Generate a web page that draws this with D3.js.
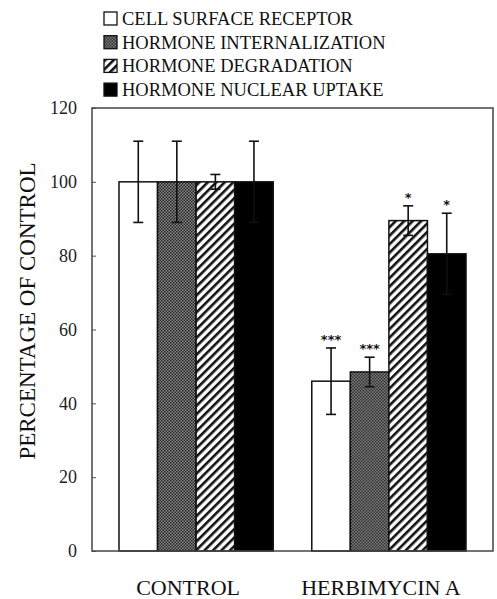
<!DOCTYPE html>
<html>
<head>
<meta charset="utf-8">
<script src="https://cdn.jsdelivr.net/npm/d3@7/dist/d3.min.js"></script>
<style>
  body { margin: 0; background: #fff; }
  svg { display: block; font-family: "Liberation Serif", "Times New Roman", serif; }
</style>
</head>
<body>
<div id="chart"></div>
<script>
// Chart data
const groups = ['CONTROL', 'HERBIMYCIN A'];
const series = ['CELL SURFACE RECEPTOR', 'HORMONE INTERNALIZATION', 'HORMONE DEGRADATION', 'HORMONE NUCLEAR UPTAKE'];
const controlValues = [100, 100, 100, 100];
const controlErrors = [11, 11, 2, 11];
const herbimycinValues = [46, 48.5, 89.5, 80.5];
const herbimycinErrors = [9, 4, 4, 11];
const herbimycinStars = ['***', '***', '*', '*'];
const yTicks = [0, 20, 40, 60, 80, 100, 120];

(function() {
    const width = 497, height = 599;
    const margin = {top: 108, right: 4, bottom: 48, left: 92};
    const plotW = width - margin.left - margin.right;
    const plotH = height - margin.top - margin.bottom;

    const rows = [
        {group: groups[0], values: controlValues, errors: controlErrors, stars: ['', '', '', '']},
        {group: groups[1], values: herbimycinValues, errors: herbimycinErrors, stars: herbimycinStars}
    ];

    const svg = d3.select('#chart')
        .append('svg')
        .attr('width', width)
        .attr('height', height);

    // Fill patterns
    const defs = svg.append('defs');
    const dots = defs.append('pattern')
        .attr('id', 'dots')
        .attr('patternUnits', 'userSpaceOnUse')
        .attr('width', 3)
        .attr('height', 3);
    dots.append('rect').attr('width', 3).attr('height', 3).attr('fill', '#8a8a8a');
    dots.append('rect').attr('width', 1.5).attr('height', 1.5).attr('fill', '#222');
    dots.append('rect').attr('x', 1.5).attr('y', 1.5).attr('width', 1.5).attr('height', 1.5).attr('fill', '#222');

    const hatch = defs.append('pattern')
        .attr('id', 'hatch')
        .attr('patternUnits', 'userSpaceOnUse')
        .attr('width', 6)
        .attr('height', 6)
        .attr('patternTransform', 'rotate(45)');
    hatch.append('rect').attr('width', 6).attr('height', 6).attr('fill', '#fff');
    hatch.append('rect').attr('width', 2.6).attr('height', 6).attr('fill', '#111');

    const fills = ['#fff', 'url(#dots)', 'url(#hatch)', '#000'];

    const g = svg.append('g')
        .attr('transform', `translate(${margin.left},${margin.top})`);

    // Scales
    const x0 = d3.scaleBand()
        .domain(groups)
        .range([0, plotW])
        .paddingInner(0.2)
        .paddingOuter(0.14);

    const x1 = d3.scaleBand()
        .domain(d3.range(series.length))
        .range([0, x0.bandwidth()])
        .padding(0);

    const y = d3.scaleLinear()
        .domain([0, 120])
        .range([plotH, 0]);

    // Y axis with inward ticks
    const yAxis = g.append('g')
        .call(d3.axisLeft(y).tickValues(yTicks).tickSize(-4).tickPadding(15));
    yAxis.select('.domain').remove();
    yAxis.selectAll('line').attr('stroke', '#555');
    yAxis.selectAll('text')
        .attr('font-size', 18)
        .attr('font-family', '"Liberation Serif", serif')
        .attr('fill', '#222');

    // Bars
    const groupSel = g.selectAll('.grp')
        .data(rows)
        .enter()
        .append('g')
        .attr('transform', d => `translate(${x0(d.group)},0)`);

    const items = groupSel.selectAll('.item')
        .data(d => d.values.map((v, i) => ({i: i, v: v, e: d.errors[i], s: d.stars[i]})))
        .enter()
        .append('g');

    items.append('rect')
        .attr('x', d => x1(d.i))
        .attr('y', d => y(d.v))
        .attr('width', x1.bandwidth())
        .attr('height', d => plotH - y(d.v))
        .attr('fill', d => fills[d.i])
        .attr('stroke', '#111')
        .attr('stroke-width', 1.5);

    // Error bars
    const cx = d => x1(d.i) + x1.bandwidth() / 2;
    items.append('line')
        .attr('x1', cx).attr('x2', cx)
        .attr('y1', d => y(d.v + d.e))
        .attr('y2', d => y(d.v - d.e))
        .attr('stroke', '#111')
        .attr('stroke-width', 1.6);
    items.append('line')
        .attr('x1', d => cx(d) - 5).attr('x2', d => cx(d) + 5)
        .attr('y1', d => y(d.v + d.e)).attr('y2', d => y(d.v + d.e))
        .attr('stroke', '#111')
        .attr('stroke-width', 1.6);
    items.append('line')
        .attr('x1', d => cx(d) - 5).attr('x2', d => cx(d) + 5)
        .attr('y1', d => y(d.v - d.e)).attr('y2', d => y(d.v - d.e))
        .attr('stroke', '#111')
        .attr('stroke-width', 1.6);

    // Significance stars
    items.append('text')
        .attr('x', cx)
        .attr('y', d => y(d.v + d.e) - 4)
        .attr('text-anchor', 'middle')
        .attr('font-size', 13)
        .attr('font-weight', 'bold')
        .attr('font-family', '"DejaVu Sans", sans-serif')
        .attr('fill', '#111')
        .text(d => d.s);

    // Frame
    g.append('rect')
        .attr('width', plotW)
        .attr('height', plotH)
        .attr('fill', 'none')
        .attr('stroke', '#444')
        .attr('stroke-width', 1.5);

    // Category labels
    g.selectAll('.cat')
        .data(groups)
        .enter()
        .append('text')
        .attr('x', d => x0(d) + x0.bandwidth() / 2 - 8)
        .attr('y', plotH + 44)
        .attr('text-anchor', 'middle')
        .attr('font-size', 22)
        .attr('fill', '#111')
        .text(d => d);

    // Y axis title
    svg.append('text')
        .attr('transform', 'translate(35,311) rotate(-90)')
        .attr('text-anchor', 'middle')
        .attr('font-size', 23)
        .attr('fill', '#111')
        .text('PERCENTAGE OF CONTROL');

    // Legend
    const legend = svg.append('g')
        .attr('transform', 'translate(104,12)');
    const li = legend.selectAll('.li')
        .data(series)
        .enter()
        .append('g')
        .attr('transform', (d, i) => `translate(0,${i * 23.7})`);
    li.append('rect')
        .attr('width', 13)
        .attr('height', 13)
        .attr('fill', (d, i) => fills[i])
        .attr('stroke', '#111')
        .attr('stroke-width', 1.3);
    li.append('text')
        .attr('x', 18)
        .attr('y', 13)
        .attr('font-size', 18.5)
        .attr('fill', '#111')
        .text(d => d);
})();
</script>
</body>
</html>
